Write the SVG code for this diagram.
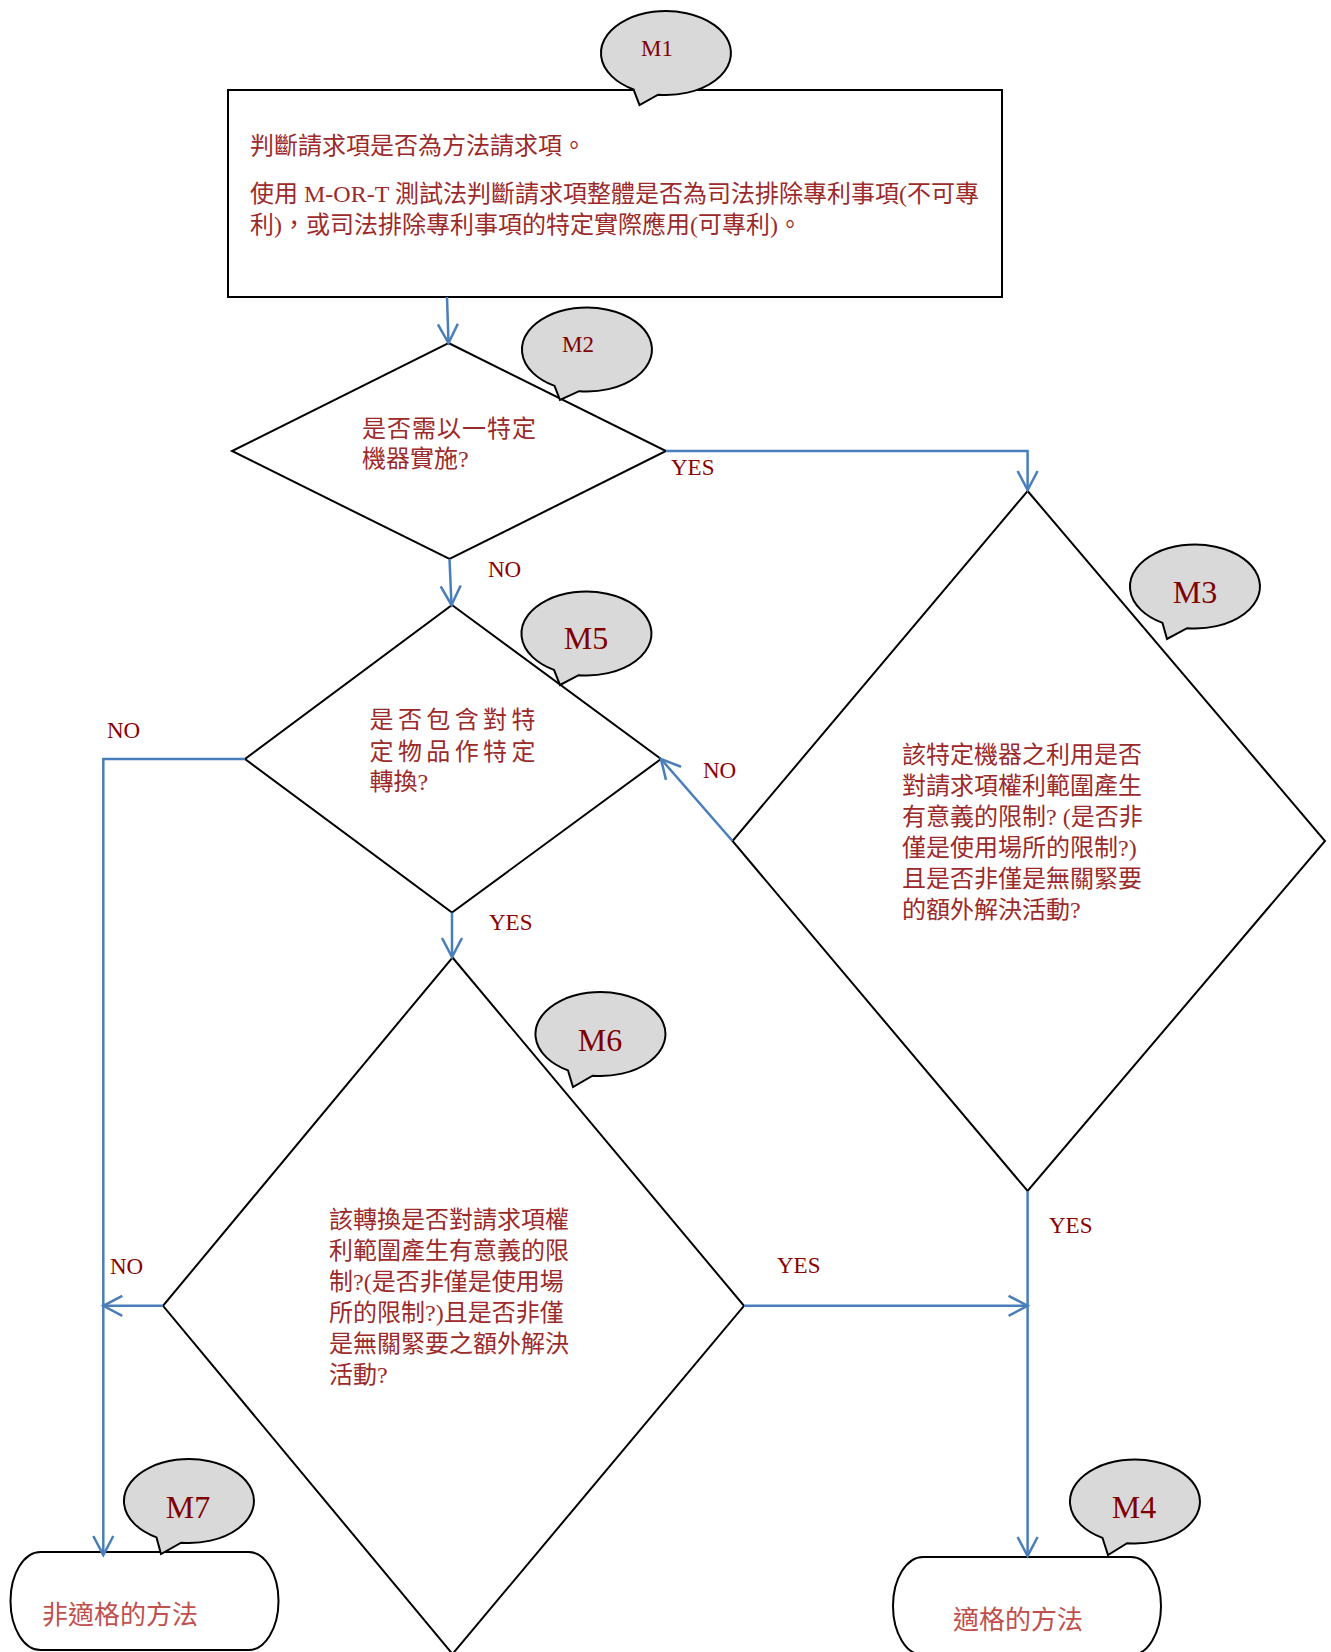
<svg xmlns="http://www.w3.org/2000/svg" width="1331" height="1652" viewBox="0 0 1331 1652">
<style>
.shape{fill:#fff;stroke:#000;stroke-width:2}
.bubble{fill:#d9d9d9;stroke:#000;stroke-width:2;stroke-linejoin:miter}
.conn{fill:none;stroke:#4a7ebb;stroke-width:2.5}
.t{font-family:"Liberation Serif","Noto Sans CJK TC",serif;font-size:24px;fill:#9c2a2a}
.lbl{font-family:"Liberation Serif",serif;font-size:23px;fill:#8b0000}
.m{font-family:"Liberation Serif",serif;font-size:32px;fill:#800000;text-anchor:middle}
.ms{font-size:23px}
.term{font-family:"Liberation Serif","Noto Sans CJK TC",serif;font-size:26px;fill:#c0504d}
</style>
<defs>
<marker id="arr" markerUnits="userSpaceOnUse" viewBox="0 0 22 22" refX="20" refY="11" markerWidth="22" markerHeight="22" orient="auto" overflow="visible">
<path d="M1,1 L20,11 L1,21" fill="none" stroke="#4a7ebb" stroke-width="2.5"/>
</marker>
</defs>
<rect width="1331" height="1652" fill="#fff"/>

<g id="M1">
<rect class="shape" x="228" y="90" width="774" height="207"/>
<text class="t" x="250" y="154">判斷請求項是否為方法請求項。</text>
<text class="t" x="250" y="202">使用 M-OR-T 測試法判斷請求項整體是否為司法排除專利事項(不可專</text>
<text class="t" x="250" y="233">利)，或司法排除專利事項的特定實際應用(可專利)。</text>
<path class="bubble" d="M633.5,89.4 A65,42 0 1 1 658.1,94.7 L639.5,105 Z"/>
<text class="m ms" x="657" y="56">M1</text>
</g>

<g id="M2">
<polygon class="shape" points="448.5,343 666,451 449.5,559 232,451"/>
<text class="t" x="362" y="437" letter-spacing="1">是否需以一特定</text>
<text class="t" x="362" y="467">機器實施?</text>
<path class="bubble" d="M554.5,385.9 A65,42 0 1 1 579.1,391.2 L560,400 Z"/>
<text class="m ms" x="578" y="352">M2</text>
</g>

<g id="M3">
<polygon class="shape" points="1027.6,491 1325,841 1027.6,1191 732.5,841"/>
<text class="t" x="902" y="763">該特定機器之利用是否</text>
<text class="t" x="902" y="794">對請求項權利範圍產生</text>
<text class="t" x="902" y="825">有意義的限制? (是否非</text>
<text class="t" x="902" y="856">僅是使用場所的限制?)</text>
<text class="t" x="902" y="887">且是否非僅是無關緊要</text>
<text class="t" x="902" y="918">的額外解決活動?</text>
<path class="bubble" d="M1162.5,622.9 A65,42 0 1 1 1187.1,628.2 L1167,639 Z"/>
<text class="m" x="1195" y="603">M3</text>
</g>

<g id="M5">
<polygon class="shape" points="452,605 661,759 452,912.5 245,759"/>
<text class="t" x="369.5" y="728" letter-spacing="4.4">是否包含對特</text>
<text class="t" x="369.5" y="760" letter-spacing="4.4">定物品作特定</text>
<text class="t" x="369.5" y="790">轉換?</text>
<path class="bubble" d="M554,669.9 A65,42 0 1 1 578.6,675.2 L560,685 Z"/>
<text class="m" x="586" y="649">M5</text>
</g>

<g id="M6">
<polygon class="shape" points="452.5,957.5 744,1305.8 452.5,1654 163,1305.8"/>
<text class="t" x="329" y="1228">該轉換是否對請求項權</text>
<text class="t" x="329" y="1259">利範圍產生有意義的限</text>
<text class="t" x="329" y="1290">制?(是否非僅是使用場</text>
<text class="t" x="329" y="1321">所的限制?)且是否非僅</text>
<text class="t" x="329" y="1352">是無關緊要之額外解決</text>
<text class="t" x="329" y="1383">活動?</text>
<path class="bubble" d="M568,1070.4 A65,42 0 1 1 592.6,1075.7 L573,1087 Z"/>
<text class="m" x="600" y="1051">M6</text>
</g>

<g id="M7">
<rect class="shape" x="10.5" y="1552" width="268" height="98" rx="30" ry="49"/>
<text class="term" x="42" y="1624">非適格的方法</text>
<path class="bubble" d="M156.5,1537.4 A65,42 0 1 1 181.1,1542.7 L161,1554 Z"/>
<text class="m" x="188" y="1518">M7</text>
</g>

<g id="M4">
<rect class="shape" x="893" y="1557" width="268" height="98" rx="30" ry="49"/>
<text class="term" x="953" y="1629">適格的方法</text>
<path class="bubble" d="M1102.5,1537.9 A65,42 0 1 1 1127.1,1543.2 L1108,1555 Z"/>
<text class="m" x="1134" y="1518">M4</text>
</g>

<g id="connectors">
<path class="conn" d="M447,297 L448.5,343" marker-end="url(#arr)"/>
<path class="conn" d="M666,451 H1027.6 V490" marker-end="url(#arr)"/>
<path class="conn" d="M449.5,559 L451.5,605" marker-end="url(#arr)"/>
<path class="conn" d="M245,759 H103.3 V1555" marker-end="url(#arr)"/>
<path class="conn" d="M452,912.5 V957" marker-end="url(#arr)"/>
<path class="conn" d="M732.5,841 L661,759" marker-end="url(#arr)"/>
<path class="conn" d="M1027.6,1191 V1556" marker-end="url(#arr)"/>
<path class="conn" d="M163,1305.8 H103.3" marker-end="url(#arr)"/>
<path class="conn" d="M744,1305.8 H1027.6" marker-end="url(#arr)"/>
<text class="lbl" x="671" y="475">YES</text>
<text class="lbl" x="488" y="577">NO</text>
<text class="lbl" x="107" y="738">NO</text>
<text class="lbl" x="489" y="930">YES</text>
<text class="lbl" x="703" y="778">NO</text>
<text class="lbl" x="1049" y="1233">YES</text>
<text class="lbl" x="110" y="1274">NO</text>
<text class="lbl" x="777" y="1273">YES</text>
</g>
</svg>
